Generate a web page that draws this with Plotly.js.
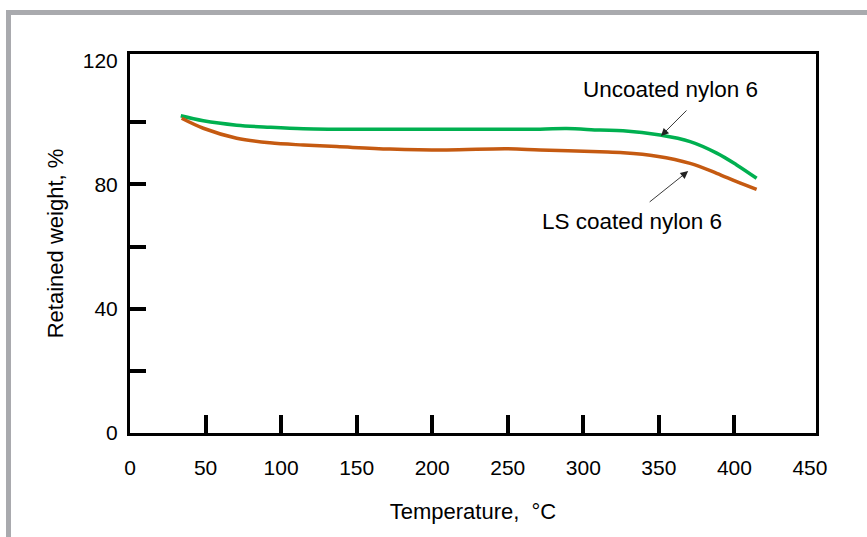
<!DOCTYPE html>
<html>
<head>
<meta charset="utf-8">
<script src="https://cdn.plot.ly/plotly-3.0.1.min.js"></script>
<style>
  html, body { margin: 0; padding: 0; background: #ffffff; }
  #wrap { position: relative; width: 867px; height: 537px; overflow: hidden; }
  #frame { position: absolute; left: 6px; top: 10px; width: 900px; height: 600px;
           border-left: 5px solid #a9aaae; border-top: 5px solid #a9aaae; box-sizing: border-box; }
  #chart { position: absolute; left: 0; top: 0; width: 867px; height: 537px; }
</style>
</head>
<body>
<div id="wrap">
  <div id="frame"></div>
  <div id="chart"></div>
</div>
<script>
// Temperature (°C) and retained weight (%)
const uncoatedTemp = [33.6, 48.5, 70.6, 92.6, 114.7, 136.8, 172.1, 222, 271.4, 289, 311, 326.3, 350.8, 370.7, 388.3, 401.5, 414.7];
const uncoatedWeight = [102.1, 100.5, 99.1, 98.4, 97.9, 97.8, 97.8, 97.8, 97.8, 98.0, 97.5, 97.3, 95.9, 93.8, 90.1, 86.3, 82.0];

const coatedTemp = [34.2, 48.5, 70.6, 92.6, 114.7, 136.8, 172.1, 209.6, 249.3, 271.4, 311, 326.5, 348.6, 370.7, 388.3, 401.5, 414.7];
const coatedWeight = [101.3, 98.1, 94.9, 93.4, 92.7, 92.2, 91.4, 91.1, 91.5, 91.1, 90.5, 90.2, 89.1, 86.8, 83.6, 80.9, 78.4];

const xTickLabels = [0, 50, 100, 150, 200, 250, 300, 350, 400, 450];
const xTickMarks = [50, 100, 150, 200, 250, 300, 350, 400];
const yTickLabels = [0, 40, 80, 120];
const yTickMarks = [20, 40, 60, 80, 100];

const seriesNames = ['Uncoated nylon 6', 'LS coated nylon 6'];

const font = 'Liberation Sans, Arial, sans-serif';

const traces = [
  { x: uncoatedTemp, y: uncoatedWeight, name: seriesNames[0], mode: 'lines',
    line: { color: '#00b050', width: 3.5, shape: 'spline', smoothing: 1 } },
  { x: coatedTemp, y: coatedWeight, name: seriesNames[1], mode: 'lines',
    line: { color: '#c55a11', width: 3.5, shape: 'spline', smoothing: 1 } }
];

const layout = {
  width: 867, height: 537,
  margin: { l: 130, r: 51, t: 54, b: 104 },
  paper_bgcolor: 'rgba(0,0,0,0)',
  plot_bgcolor: 'rgba(0,0,0,0)',
  showlegend: false,
  font: { family: font, size: 21, color: '#000' },
  xaxis: {
    range: [0, 454],
    tickmode: 'array', tickvals: xTickLabels, ticktext: xTickLabels.map(String),
    ticks: 'outside', ticklen: 0,
    ticklabelstandoff: 14,
    minor: { tickmode: 'array', tickvals: xTickMarks, ticks: 'inside', ticklen: 18, tickwidth: 4, tickcolor: '#000', showgrid: false },
    showline: true, linecolor: '#000', linewidth: 3, mirror: true,
    showgrid: false, zeroline: false,
    tickfont: { family: font, size: 21, color: '#000' },
    title: { text: 'Temperature,  °C', font: { family: font, size: 22, color: '#000' }, standoff: 26 }
  },
  yaxis: {
    range: [0, 122],
    tickmode: 'array', tickvals: yTickLabels, ticktext: yTickLabels.map(String),
    ticks: 'outside', ticklen: 0,
    ticklabelstandoff: 5,
    minor: { tickmode: 'array', tickvals: yTickMarks, ticks: 'inside', ticklen: 16, tickwidth: 4, tickcolor: '#000', showgrid: false },
    showline: true, linecolor: '#000', linewidth: 3, mirror: true,
    showgrid: false, zeroline: false,
    tickfont: { family: font, size: 21, color: '#000' },
    title: { text: 'Retained weight, %', font: { family: font, size: 22, color: '#000' }, standoff: 14 }
  },
  annotations: [
    { x: 351.4, y: 95.6, ax: 27, ay: -27, xref: 'x', yref: 'y', text: '', showarrow: true,
      arrowhead: 2, arrowsize: 1.7, arrowwidth: 0.9, arrowcolor: '#222' },
    { x: 369.4, y: 84.3, ax: -40, ay: 32, xref: 'x', yref: 'y', text: '', showarrow: true,
      arrowhead: 2, arrowsize: 1.7, arrowwidth: 0.9, arrowcolor: '#222' },
    { x: 358, y: 110.7, xref: 'x', yref: 'y', text: seriesNames[0], showarrow: false,
      font: { family: font, size: 22.5, color: '#000' } },
    { x: 332.5, y: 68, xref: 'x', yref: 'y', text: seriesNames[1], showarrow: false,
      font: { family: font, size: 22.5, color: '#000' } }
  ]
};

Plotly.newPlot('chart', traces, layout, { displayModeBar: false, staticPlot: true });
</script>
</body>
</html>
